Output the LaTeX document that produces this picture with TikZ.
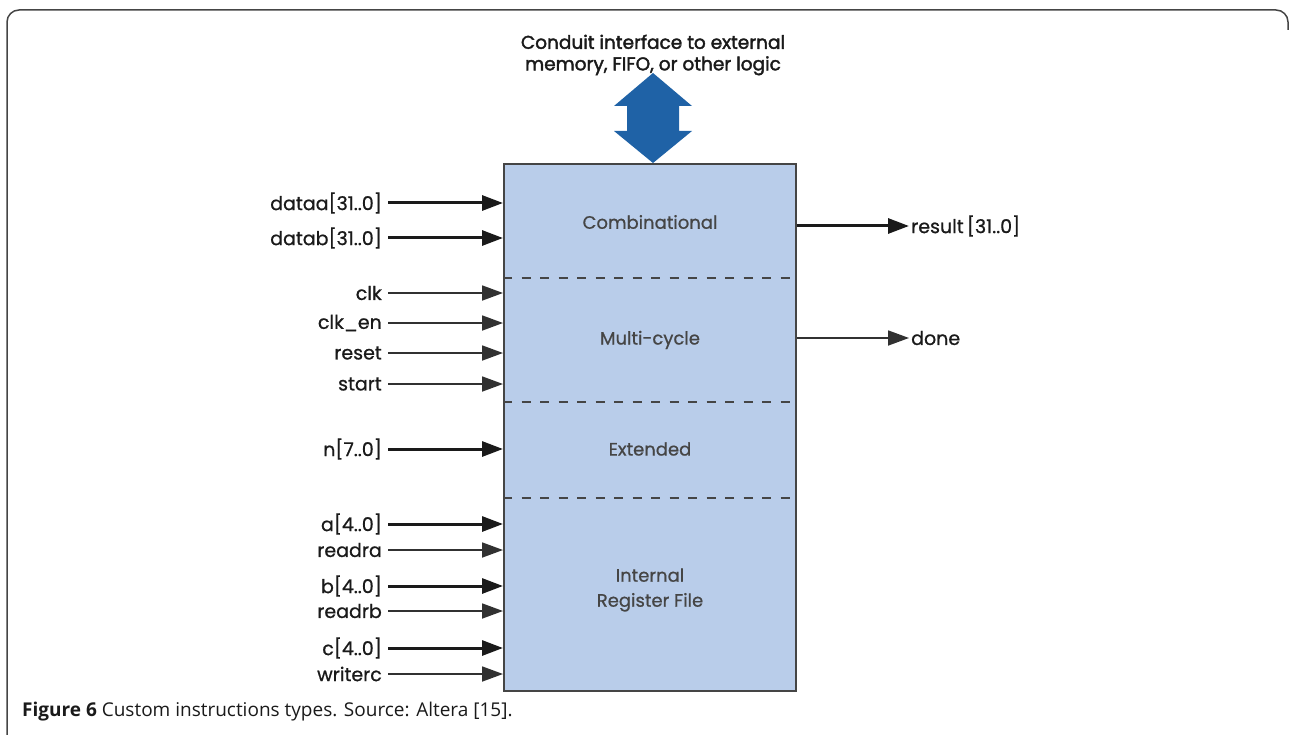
\documentclass[tikz,border=0pt]{standalone}
\usepackage{fontspec}
\setmainfont{Poppins}
\newfontfamily\lblfont[FakeBold=0.8]{Poppins}
\newfontfamily\condfont[FakeBold=2]{Poppins}
\newfontfamily\capfont{Open Sans}
\usetikzlibrary{arrows.meta,calc}
\definecolor{boxfill}{HTML}{B9CDEA}
\definecolor{boxline}{HTML}{454545}
\definecolor{arrblue}{HTML}{1F62A6}
\definecolor{txt}{HTML}{1A1A1A}
\tikzset{
  inlbl/.style={anchor=east,inner xsep=6pt,inner ysep=0pt,font=\lblfont\fontsize{19}{21}\selectfont,text=txt},
  outlbl/.style={anchor=west,inner xsep=2pt,inner ysep=0pt,font=\lblfont\fontsize{19}{21}\selectfont,text=txt},
  seclbl/.style={font=\lblfont\fontsize{18}{25}\selectfont,text=boxline,align=center},
  thickarr/.style={line width=3pt,draw=txt,-{Triangle[length=21pt,width=15pt]}},
  thinarr/.style={line width=1.8pt,draw=txt!90,-{Triangle[length=21pt,width=15pt]}},
  sepline/.style={draw=boxline,line width=2pt,dash pattern=on 9pt off 9.5pt},
}
\begin{document}
\begin{tikzpicture}[x=1pt,y=-1pt]
\useasboundingbox (0,0) rectangle (1289,735);
% frame
\draw[boxline,line width=1.5pt] (7,735) -- (7,22) arc[start angle=180,end angle=270,radius=12] -- (1276,10) arc[start angle=270,end angle=360,radius=12] -- (1288,30);
% main box
\node[draw=boxline,line width=2pt,fill=boxfill,minimum width=292pt,minimum height=527pt,inner sep=0pt,anchor=north west] (box) at (503,163) {};
% separators
\coordinate (s1) at (503,278);
\coordinate (s2) at (503,402);
\coordinate (s3) at (503,498);
\draw[sepline] (s1) -- (s1 -| box.east);
\draw[sepline] (s2) -- (s2 -| box.east);
\draw[sepline] (s3) -- (s3 -| box.east);
% section labels
\node[seclbl] (comb) at (650,222) {Combinational};
\node[seclbl] (multi) at (650,340) {Multi-cycle};
\node[seclbl] (ext) at (650,449) {Extended};
\node[seclbl] (irf) at (650,590) {Internal\\Register File};
% conduit
\node[font=\condfont\fontsize{18.5}{21.5}\selectfont,text=txt,align=center] (cond) at (653,55) {Conduit interface to external\\memory, FIFO, or other logic};
\fill[arrblue] (653,73) -- (692,106) -- (679,106) -- (679,131) -- (692,131) -- (653,163) -- (614,131) -- (627,131) -- (627,106) -- (614,106) -- cycle;
% inputs
\foreach \nm/\y/\t/\st in {
  da/203/{dataa[31..0]}/thickarr,
  db/238/{datab[31..0]}/thickarr,
  clk/293/{clk}/thinarr,
  clken/323/{clk\_en}/thinarr,
  rst/353/{reset}/thinarr,
  st/384/{start}/thinarr,
  n/449/{n[7..0]}/thickarr,
  a/524/{a[4..0]}/thickarr,
  ra/550/{readra}/thinarr,
  b/586/{b[4..0]}/thickarr,
  rb/611/{readrb}/thinarr,
  c/648/{c[4..0]}/thickarr,
  wc/674/{writerc}/thinarr}{
  \node[inlbl] (\nm) at (388,\y) {\t};
  \draw[\st] (\nm.east) -- (\nm.east -| box.west);
}
% outputs
\node[outlbl] (res) at (909,226) {result\,[31..0]};
\node[outlbl] (done) at (909,338) {done};
\draw[thickarr] (res.west -| box.east) -- (res.west);
\draw[thinarr] (done.west -| box.east) -- (done.west);
% caption
\node[anchor=west,inner sep=0pt,font=\capfont\fontsize{19}{21}\selectfont,text=txt] (cap) at (22,712) {\textbf{Figure 6} Custom instructions types. Source: Altera [15].};
\end{tikzpicture}
\end{document}
